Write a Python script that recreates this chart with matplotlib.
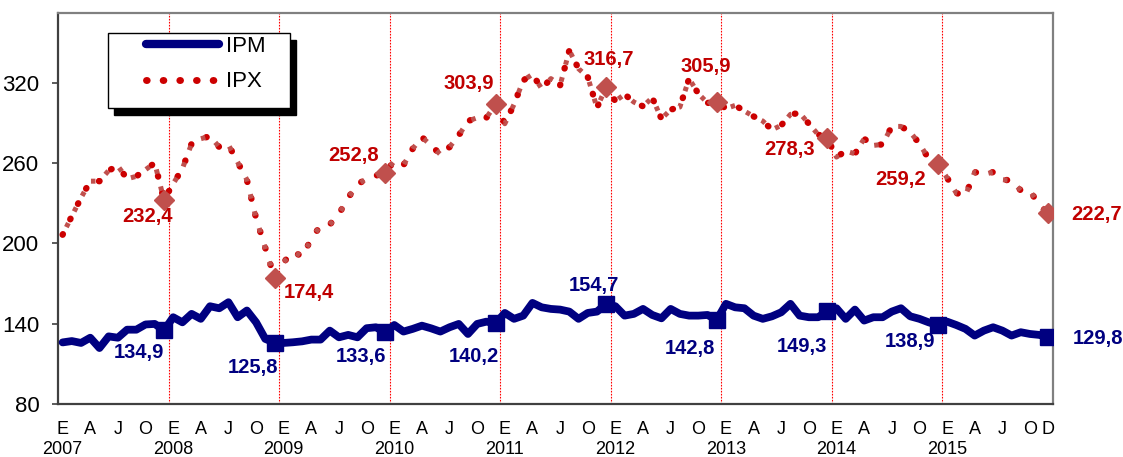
import matplotlib
matplotlib.use("Agg")
import matplotlib.pyplot as plt
from matplotlib.patches import Rectangle
from matplotlib.lines import Line2D

# ---------------- data ----------------
years = [2007, 2008, 2009, 2010, 2011, 2012, 2013, 2014, 2015]
quarter_letters = ["E", "A", "J", "O"]
last_letter = "D"

ipm = [
    126.0, 127.0, 125.6, 129.5, 121.8, 130.5, 129.5, 135.5, 135.5, 139.4, 139.8, 134.9,
    144.8, 141.0, 147.3, 143.6, 153.0, 151.5, 156.0, 144.8, 149.8, 141.0, 128.6, 125.8,
    125.6, 126.1, 126.8, 128.1, 128.1, 134.8, 129.8, 131.6, 129.8, 136.6, 137.3, 133.6,
    139.0, 134.1, 136.1, 138.5, 136.5, 134.1, 137.3, 139.8, 132.3, 139.8, 141.5, 140.2,
    148.0, 143.6, 146.0, 155.5, 152.2, 151.0, 150.5, 149.0, 143.6, 148.0, 149.0, 154.7,
    153.0, 146.0, 147.3, 151.0, 146.5, 144.0, 151.0, 147.3, 146.0, 146.0, 146.5, 142.8,
    154.8, 152.2, 151.5, 146.0, 143.6, 145.5, 148.5, 154.8, 146.0, 144.8, 144.8, 149.3,
    151.5, 143.6, 150.5, 142.3, 144.8, 144.8, 149.0, 151.5, 145.5, 143.6, 141.0, 138.9,
    141.5, 139.0, 136.1, 131.1, 134.8, 137.3, 134.8, 131.1, 133.6, 132.3, 131.6, 129.8,
]

ipx = [
    206.4, 220.3, 234.0, 246.4, 246.4, 254.4, 257.7, 248.2, 250.0, 255.0, 260.0, 232.4,
    244.5, 255.7, 274.4, 278.1, 280.0, 271.9, 273.6, 260.6, 247.5, 218.8, 196.6, 174.4,
    185.9, 193.9, 190.1, 203.4, 213.3, 214.0, 222.0, 234.0, 244.0, 248.2, 250.5, 252.8,
    261.4, 258.4, 270.6, 279.3, 273.1, 266.4, 271.9, 280.6, 291.3, 293.8, 293.8, 303.9,
    289.3, 303.8, 321.7, 326.2, 315.5, 323.0, 318.0, 344.0, 330.4, 324.2, 301.3, 316.7,
    306.2, 311.3, 305.5, 302.3, 308.8, 293.0, 299.8, 301.8, 323.0, 311.8, 304.8, 305.9,
    300.6, 303.0, 298.8, 294.8, 291.3, 284.8, 288.1, 296.3, 297.3, 289.3, 281.3, 278.3,
    264.4, 268.9, 266.9, 278.1, 273.1, 273.9, 287.3, 287.3, 283.1, 274.4, 263.2, 259.2,
    249.0, 237.5, 235.7, 253.2, 251.4, 253.2, 247.5, 247.0, 239.5, 239.5, 228.3, 222.7,
]

# label offsets (pixels) for December annotations
ipm_offsets = [(-25, -22), (-22, -25), (-24, -24), (-22, -33), (-12, 18),
               (-27, -29), (-25, -35), (-28, -16), (50, -1)]
ipx_offsets = [(-16, -17), (34, -15), (-31, 17), (-27, 21), (3, 28),
               (-11, 35), (-38, -11), (-37, -15), (48, -2)]

# ---------------- styling ----------------
NAVY = "#000080"
RED = "#CC0000"
RED2 = "#C0504D"
narrow = ["Liberation Sans Narrow", "Liberation Sans", "DejaVu Sans"]
regular = ["Liberation Sans", "DejaVu Sans"]

W, H, DPI = 1123, 457, 100
fig = plt.figure(figsize=(W / DPI, H / DPI), dpi=DPI)
ax = fig.add_axes([58 / W, (H - 404) / H, (1053 - 58) / W, (404 - 13) / H])

n = len(ipm)
x = list(range(n))
dec_idx = [12 * k + 11 for k in range(len(years))]

# IPX: two overlaid dotted strokes (round dots + square dots)
ax.plot(x, ipx, color=RED, lw=4.6, linestyle=(0, (0.1, 2.6)),
        dash_capstyle="round", zorder=2)
ax.plot(x, ipx, color=RED2, lw=3.6, linestyle=(1.8, (0.9, 2.6)),
        dash_capstyle="butt", zorder=2)
ax.plot([x[i] for i in dec_idx], [ipx[i] for i in dec_idx], linestyle="none",
        marker="D", ms=10.5, color=RED2, mec=RED2, zorder=3)

# IPM
ax.plot(x, ipm, color=NAVY, lw=5.6, solid_joinstyle="round",
        solid_capstyle="round", zorder=4)
ax.plot([x[i] for i in dec_idx], [ipm[i] for i in dec_idx], linestyle="none",
        marker="s", ms=12, color=NAVY, zorder=5)

# annotations
def fmt(v):
    return f"{v:.1f}".replace(".", ",")

for i, (dx, dy) in zip(dec_idx, ipm_offsets):
    ax.annotate(fmt(ipm[i]), (x[i], ipm[i]), xytext=(dx, dy),
                textcoords="offset pixels", ha="center", va="center",
                color=NAVY, fontsize=14.5, fontweight="bold", family=regular,
                annotation_clip=False, zorder=6)
for i, (dx, dy) in zip(dec_idx, ipx_offsets):
    ax.annotate(fmt(ipx[i]), (x[i], ipx[i]), xytext=(dx, dy),
                textcoords="offset pixels", ha="center", va="center",
                color="#C00000", fontsize=14.5, fontweight="bold", family=regular,
                annotation_clip=False, zorder=6)

# axes limits / ticks
ax.set_xlim(-0.5, n - 0.5)
ax.set_ylim(80, 372)
ax.set_yticks([80, 140, 200, 260, 320])
ax.set_yticklabels(["80", "140", "200", "260", "320"], family=narrow,
                   fontsize=16, fontstretch="condensed")
ax.tick_params(axis="y", direction="out", length=4.5, width=1.2, color="#404040", pad=9)

xt, xl = [], []
for k, yr in enumerate(years):
    for q, letter in enumerate(quarter_letters):
        xt.append(12 * k + 3 * q)
        xl.append(f"{letter}\n{yr}" if q == 0 else letter)
xt.append(n - 1)
xl.append(last_letter)
ax.set_xticks(xt)
ax.set_xticklabels(xl, family=regular, fontsize=13, linespacing=1.25, va="top")
ax.tick_params(axis="x", length=0, pad=12)

# year separator gridlines
ax.set_xticks([12 * k - 0.5 for k in range(1, len(years))], minor=True)
ax.tick_params(axis="x", which="minor", length=0)
ax.grid(axis="x", which="minor", color="#FF0000", lw=0.8, linestyle=(0, (1.5, 1.2)))
ax.grid(axis="x", which="major", visible=False)
ax.grid(axis="y", visible=False)

for s in ["left", "bottom"]:
    ax.spines[s].set_color("#404040")
    ax.spines[s].set_linewidth(1.6)
for s in ["top", "right"]:
    ax.spines[s].set_color("#808080")
    ax.spines[s].set_linewidth(1.6)

# legend box with hard shadow
ax_w, ax_h = 1053 - 58, 404 - 13
bx0, bx1 = (108 - 58) / ax_w, (290 - 58) / ax_w
by0, by1 = (404 - 108) / ax_h, (404 - 33) / ax_h
ax.add_patch(Rectangle((bx0 + 6 / ax_w, by0 - 7 / ax_h), bx1 - bx0, by1 - by0,
                       transform=ax.transAxes, facecolor="black", edgecolor="black",
                       zorder=7, clip_on=False))
ax.add_patch(Rectangle((bx0, by0), bx1 - bx0, by1 - by0, transform=ax.transAxes,
                       facecolor="white", edgecolor="black", lw=1.0, zorder=7.5,
                       clip_on=False))
h_ipm = Line2D([], [], color=NAVY, lw=6, solid_capstyle="round")
h_ipx = Line2D([], [], color=RED, lw=5.0, linestyle=(0, (0.1, 2.3)),
               dash_capstyle="round")
leg = ax.legend([h_ipm, h_ipx], ["IPM", "IPX"], loc="upper left",
                bbox_to_anchor=((146 - 58) / ax_w, (404 - 36) / ax_h),
                frameon=False, borderpad=0, borderaxespad=0, handlelength=3.3,
                handletextpad=0.3, labelspacing=0.65,
                prop={"family": narrow, "size": 16, "stretch": "condensed"})
leg.set_zorder(8)

fig.savefig("out.png", dpi=DPI)
